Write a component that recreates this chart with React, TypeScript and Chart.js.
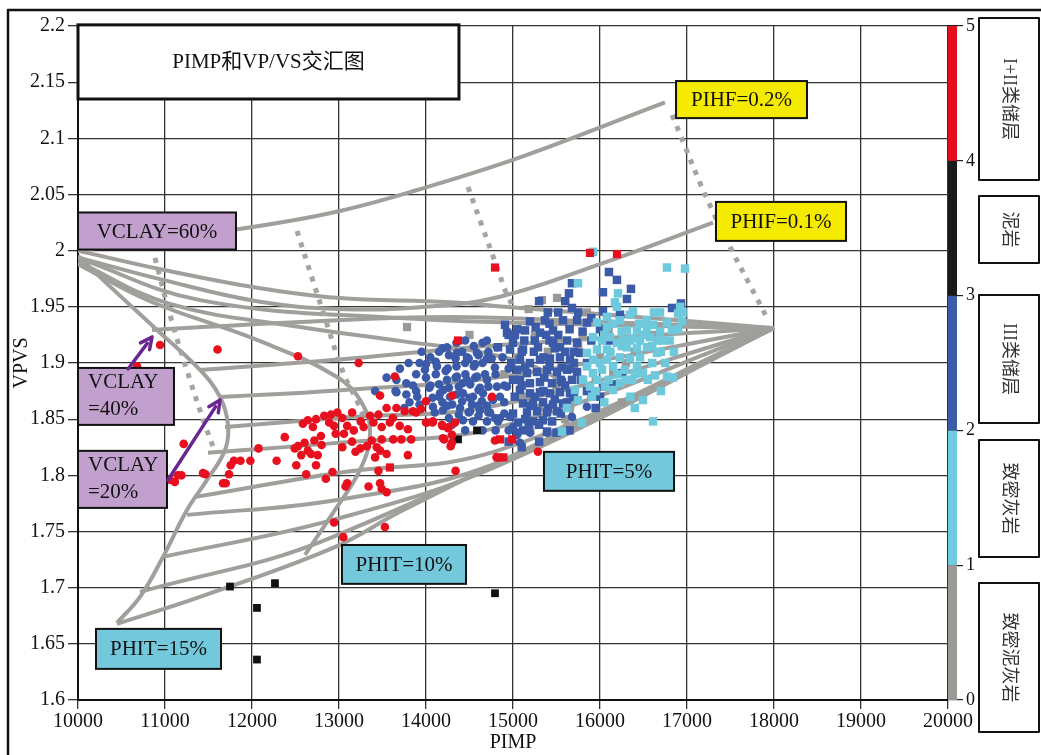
import React, { useEffect, useRef } from 'react';
import { Chart, registerables } from 'chart.js';

Chart.register(...registerables);

type P = [number, number];

// ---------- axis / class data ----------
const xRange: P = [10000, 20000];
const yRange: P = [1.6, 2.2];
const xStep = 1000;
const yStep = 0.05;
const classTicks = [0, 1, 2, 3, 4, 5];
const classNames = ['致密泥灰岩', '致密灰岩', 'III类储层', '泥岩', 'I+II类储层'];
const classColors = ['#9b9995', '#70cbe0', '#3b5aa8', '#1a1a1a', '#e50f1c'];

// ---------- rock-physics template curves ----------
const curvePIHF02: P[] = [[10000, 2.0], [11828, 2.019], [12931, 2.034], [13897, 2.054], [15080, 2.083], [16747, 2.132]];
const curvePHIF01: P[] = [[10000, 1.994], [10977, 1.974], [12057, 1.955], [13000, 1.948], [14000, 1.95], [14851, 1.959], [16000, 1.988], [17299, 2.025]];
const curvePHIT0: P[] = [[10000, 2.0], [10977, 1.983], [12057, 1.967], [12977, 1.958], [14276, 1.954], [15080, 1.949], [16575, 1.94], [18000, 1.931]];
const curveE: P[] = [[10000, 1.9935], [11402, 1.956], [13701, 1.94], [16000, 1.934], [18000, 1.931]];
const curvePHIT5: P[] = [[10000, 1.99], [11057, 1.9526], [12552, 1.9321], [13701, 1.9197], [14736, 1.908], [15425, 1.89], [15678, 1.8671], [15598, 1.8449], [15310, 1.825]];
const curvePHIT10: P[] = [[10000, 1.988], [10828, 1.955], [12057, 1.9205], [12977, 1.8876], [13276, 1.8627], [13356, 1.836], [13241, 1.8048], [12954, 1.7692], [12609, 1.7292]];
const curvePHIT15: P[] = [[10000, 1.9955], [10287, 1.974], [10908, 1.9294], [11402, 1.8938], [11632, 1.8698], [11724, 1.8449], [11690, 1.8226], [11483, 1.7959], [11253, 1.7692], [10977, 1.7274], [10713, 1.6918], [10448, 1.6687]];
const fanV40: P[] = [[10851, 1.9294], [12552, 1.9366], [14276, 1.941], [16000, 1.9366], [18000, 1.9312]];
const fanV30: P[] = [[11402, 1.8938], [12931, 1.9027], [14851, 1.9161], [18000, 1.9312]];
const fan1: P[] = [[11632, 1.8698], [12977, 1.8756], [14851, 1.8876], [18000, 1.9312]];
const fan2: P[] = [[11690, 1.8431], [12977, 1.8511], [14851, 1.8627], [18000, 1.9312]];
const fan3: P[] = [[11494, 1.82], [12977, 1.8289], [14851, 1.8431], [18000, 1.9312]];
const fan4: P[] = [[11345, 1.7808], [12977, 1.8021], [14851, 1.8226], [18000, 1.9312]];
const fan5: P[] = [[11253, 1.7648], [12977, 1.7781], [14851, 1.812], [18000, 1.9312]];
const fan6: P[] = [[10977, 1.7274], [12931, 1.7603], [14851, 1.8093], [18000, 1.9312]];
const fan7: P[] = [[10713, 1.6962], [12931, 1.7452], [18000, 1.9312]];
const lowerEdge: P[] = [[10448, 1.6678], [11402, 1.6918], [12931, 1.7354], [13701, 1.7675], [14851, 1.812], [16575, 1.876], [18000, 1.9312]];
const dotted1: P[] = [[10885, 1.9935], [11080, 1.9366], [11287, 1.8849], [11460, 1.8449], [11575, 1.8209]];
const dotted2: P[] = [[12517, 2.0175], [12701, 1.973], [12828, 1.9428], [13046, 1.892], [13218, 1.8645], [13299, 1.8493]];
const dotted3: P[] = [[14483, 2.0567], [14644, 2.022], [14839, 1.9802], [14908, 1.965], [14989, 1.9517]];
const dotted4: P[] = [[16828, 2.1208], [17299, 2.0345], [17931, 1.9383]];

const solidCurves = [curvePIHF02, curvePHIF01, curvePHIT0, curveE, curvePHIT5, curvePHIT10, curvePHIT15, fanV40, fanV30, fan1, fan2, fan3, fan4, fan5, fan6, fan7, lowerEdge];
const dottedCurves = [dotted1, dotted2, dotted3, dotted4];

// ---------- well data points ----------
const redCircles: P[] = [
  [10943, 1.916], [10678, 1.897], [11604, 1.912], [12528, 1.906], [13226, 1.9], [13642, 1.888], [13472, 1.871], [11215, 1.828],
  [11464, 1.801], [11189, 1.8], [11113, 1.794], [11057, 1.796], [11149, 1.8], [11437, 1.802], [11698, 1.793], [11736, 1.801],
  [11792, 1.813], [11868, 1.813], [11981, 1.813], [11755, 1.809], [12075, 1.824], [12283, 1.813], [12377, 1.834], [12509, 1.809],
  [12623, 1.801], [12736, 1.809], [12849, 1.797], [12925, 1.803], [12491, 1.824], [12528, 1.826], [12604, 1.829], [12642, 1.822],
  [12717, 1.831], [12792, 1.835], [12566, 1.818], [12679, 1.819], [12755, 1.818], [12585, 1.846], [12642, 1.849], [12736, 1.85],
  [12830, 1.853], [12906, 1.854], [12981, 1.856], [13038, 1.851], [13094, 1.844], [12943, 1.844], [12887, 1.847], [13057, 1.837],
  [12962, 1.837], [13038, 1.825], [13170, 1.84], [13151, 1.856], [13358, 1.853], [13453, 1.854], [13547, 1.86], [13660, 1.86],
  [13755, 1.857], [13849, 1.857], [13943, 1.859], [13283, 1.843], [13396, 1.847], [13491, 1.843], [13585, 1.847], [13698, 1.844],
  [13792, 1.841], [13623, 1.832], [13717, 1.832], [13830, 1.832], [13491, 1.832], [13377, 1.831], [13321, 1.826], [13245, 1.824],
  [13189, 1.821], [13434, 1.825], [13472, 1.822], [13415, 1.816], [13547, 1.819], [13792, 1.818], [13453, 1.804], [13472, 1.793],
  [13491, 1.788], [13547, 1.785], [13340, 1.79], [13094, 1.793], [13075, 1.79], [12943, 1.758], [13528, 1.754], [13049, 1.745],
  [14000, 1.847], [14075, 1.847], [14189, 1.844], [14264, 1.843], [14208, 1.832], [14283, 1.826], [14340, 1.804], [14811, 1.816],
  [14792, 1.831], [14302, 1.871], [14000, 1.866], [13887, 1.856], [14011, 1.847], [14080, 1.848], [14184, 1.845], [14253, 1.842],
  [14333, 1.847], [14299, 1.836], [14195, 1.833], [14299, 1.829], [14759, 1.87], [15287, 1.821], [11667, 1.793], [12800, 1.827],
  [12700, 1.843], [13150, 1.83], [13250, 1.848], [13620, 1.851],
];
const redSquares: P[] = [[14368, 1.92], [14793, 1.985], [16195, 1.997], [15885, 1.998], [14851, 1.832], [14990, 1.832], [14830, 1.816], [14890, 1.816], [13585, 1.807]];
const blackSquares: P[] = [[11747, 1.701], [12057, 1.682], [12264, 1.704], [12057, 1.636], [14793, 1.695], [14368, 1.832], [14586, 1.84]];
const greySquares: P[] = [
  [13782, 1.932], [15333, 1.956], [15506, 1.958], [15180, 1.948], [15800, 1.925], [16000, 1.905], [15700, 1.895], [15900, 1.87],
  [16300, 1.9], [15500, 1.88], [15300, 1.86], [15600, 1.85], [15100, 1.87], [14900, 1.89], [15400, 1.91], [16100, 1.93],
  [15750, 1.915], [15950, 1.885], [16400, 1.91], [16600, 1.925], [15200, 1.84], [14700, 1.86], [15650, 1.935], [16250, 1.865],
  [15850, 1.945], [14500, 1.925], [15050, 1.905], [15450, 1.835], [16150, 1.89], [15250, 1.925],
];
const blueCircles: P[] = [
  [13925, 1.9], [14000, 1.899], [14113, 1.901], [14189, 1.913], [14264, 1.907], [14340, 1.904], [14415, 1.91], [14491, 1.904],
  [14604, 1.907], [14717, 1.91], [14755, 1.904], [13547, 1.887], [13660, 1.885], [13774, 1.882], [13887, 1.89], [14000, 1.887],
  [14113, 1.89], [14226, 1.893], [14340, 1.887], [14453, 1.89], [14566, 1.887], [14679, 1.89], [13415, 1.875], [13660, 1.874],
  [13774, 1.872], [13887, 1.875], [14038, 1.878], [14151, 1.881], [14264, 1.878], [14377, 1.879], [14509, 1.881], [14604, 1.876],
  [14717, 1.879], [13811, 1.865], [13925, 1.863], [14075, 1.869], [14189, 1.865], [14302, 1.863], [14415, 1.866], [14528, 1.863],
  [14642, 1.866], [14755, 1.869], [14377, 1.854], [14491, 1.856], [14604, 1.853], [14717, 1.856], [14264, 1.851], [14792, 1.851],
  [14566, 1.899], [14792, 1.896], [13988, 1.894], [14126, 1.897], [14241, 1.914], [14356, 1.909], [14471, 1.905], [14586, 1.909],
  [14701, 1.904], [14816, 1.914], [14241, 1.885], [14356, 1.888], [14471, 1.885], [14586, 1.888], [14701, 1.885], [14816, 1.879],
  [14931, 1.879], [14161, 1.873], [14276, 1.87], [14425, 1.873], [14540, 1.87], [14655, 1.873], [14770, 1.867], [14080, 1.861],
  [14195, 1.858], [14391, 1.86], [14506, 1.857], [14621, 1.858], [14736, 1.856], [14851, 1.851], [14966, 1.852], [14425, 1.849],
  [14540, 1.848], [14701, 1.848], [14828, 1.848], [15000, 1.843], [15195, 1.838], [15391, 1.838], [15080, 1.829], [15046, 1.836],
  [15678, 1.852], [15850, 1.861], [14900, 1.865], [14950, 1.895], [14880, 1.905], [14650, 1.918], [14450, 1.92], [14950, 1.84],
  [13700, 1.895], [13800, 1.9], [13650, 1.875], [13750, 1.86], [13900, 1.87], [14050, 1.88], [14150, 1.87], [14250, 1.895],
  [14350, 1.897], [14450, 1.9], [14550, 1.897], [14650, 1.9], [14800, 1.89], [14900, 1.88], [14850, 1.87], [14700, 1.862],
  [14600, 1.862], [14500, 1.869], [14350, 1.872], [14200, 1.876], [14100, 1.856], [14300, 1.845], [14450, 1.84], [14650, 1.84],
  [14800, 1.84], [14900, 1.855], [14550, 1.915], [14350, 1.918], [14150, 1.91], [14050, 1.905], [13850, 1.88], [14620, 1.878],
  [14420, 1.882], [14250, 1.862], [13950, 1.91], [14700, 1.92],
];
const blueSquares: P[] = [
  [16103, 1.981], [16195, 1.974], [16356, 1.966], [16310, 1.957], [16034, 1.963], [15678, 1.971], [15643, 1.962], [16828, 1.949],
  [16931, 1.953], [16034, 1.946], [15678, 1.949], [15367, 1.938], [15195, 1.937], [14908, 1.934], [15138, 1.929], [15023, 1.925],
  [15310, 1.927], [15460, 1.929], [15575, 1.938], [15736, 1.938], [15850, 1.936], [15460, 1.918], [15621, 1.92], [15736, 1.918],
  [15770, 1.909], [15287, 1.914], [15115, 1.912], [14966, 1.912], [14828, 1.914], [15080, 1.903], [15195, 1.9], [15310, 1.903],
  [15425, 1.904], [15540, 1.905], [15655, 1.903], [15046, 1.894], [15161, 1.891], [15276, 1.892], [15391, 1.894], [15506, 1.892],
  [15621, 1.894], [15736, 1.892], [15080, 1.885], [15195, 1.882], [15310, 1.883], [15448, 1.882], [15563, 1.883], [15678, 1.885],
  [15080, 1.876], [15195, 1.873], [15310, 1.874], [15425, 1.873], [15540, 1.874], [15655, 1.873], [15115, 1.864], [15230, 1.864],
  [15345, 1.865], [15460, 1.863], [15575, 1.864], [15161, 1.856], [15276, 1.857], [15391, 1.856], [15506, 1.857], [15230, 1.848],
  [15345, 1.849], [15058, 1.847], [15046, 1.838], [15115, 1.84], [15391, 1.839], [16034, 1.879], [16138, 1.881], [16253, 1.891],
  [15540, 1.914], [14931, 1.927], [16230, 1.943], [15250, 1.92], [15380, 1.925], [15520, 1.925], [15140, 1.896], [15360, 1.887],
  [15480, 1.868], [15250, 1.87], [15140, 1.85], [15600, 1.88], [15700, 1.91], [15000, 1.918], [15420, 1.897],
  [14950, 1.925], [15050, 1.93], [15260, 1.932], [15420, 1.935], [15650, 1.93], [15800, 1.928], [15900, 1.92], [15850, 1.9],
  [15780, 1.885], [15700, 1.87], [15620, 1.865], [15550, 1.855], [15450, 1.848], [15300, 1.845], [15180, 1.845], [15000, 1.855],
  [15020, 1.87], [15000, 1.885], [14980, 1.9], [15100, 1.91], [15350, 1.905], [15480, 1.913], [15600, 1.91], [15700, 1.9],
  [15560, 1.896], [15240, 1.91], [15130, 1.92], [15400, 1.945], [15520, 1.945], [15300, 1.955], [15600, 1.955], [15750, 1.945],
  [15900, 1.94], [16000, 1.93], [16100, 1.92], [16000, 1.87], [15950, 1.86], [15850, 1.875], [15400, 1.86], [15350, 1.875],
  [15200, 1.862], [15100, 1.88], [15650, 1.84], [15500, 1.838], [15300, 1.83], [15100, 1.825], [14950, 1.83], [15550, 1.885],
  [15650, 1.895], [15420, 1.92],
];
const cyanSquares: P[] = [
  [15920, 1.999], [16770, 1.985], [16977, 1.984], [15747, 1.971], [16207, 1.962], [16172, 1.954], [16690, 1.945], [16897, 1.944],
  [16943, 1.937], [16379, 1.946], [15966, 1.936], [16080, 1.932], [16230, 1.938], [16310, 1.929], [16425, 1.929], [16540, 1.931],
  [16609, 1.934], [16690, 1.928], [16770, 1.936], [16828, 1.929], [15920, 1.923], [16023, 1.92], [16115, 1.923], [16195, 1.918],
  [16264, 1.92], [16379, 1.922], [16460, 1.92], [16575, 1.923], [16655, 1.92], [16310, 1.914], [16425, 1.913], [16540, 1.914],
  [16080, 1.912], [15966, 1.912], [15850, 1.909], [15920, 1.903], [16080, 1.903], [16230, 1.905], [16345, 1.904], [16460, 1.905],
  [16023, 1.894], [16150, 1.897], [16287, 1.894], [16425, 1.897], [16483, 1.891], [15920, 1.891], [15850, 1.897], [15805, 1.885],
  [15885, 1.879], [15966, 1.885], [16057, 1.879], [16150, 1.876], [16230, 1.882], [16368, 1.885], [16494, 1.891], [16632, 1.889],
  [16770, 1.888], [16839, 1.887], [15747, 1.867], [15908, 1.87], [15621, 1.86], [15793, 1.847], [15563, 1.839], [16494, 1.867],
  [16609, 1.848], [15713, 1.876], [16655, 1.909], [16713, 1.92], [16540, 1.938], [16345, 1.943], [16080, 1.941], [16920, 1.95],
  [16195, 1.95],
  [16050, 1.925], [16150, 1.935], [16250, 1.928], [16350, 1.92], [16500, 1.925], [16600, 1.915], [16700, 1.91], [16800, 1.92],
  [16850, 1.91], [16750, 1.9], [16600, 1.9], [16550, 1.885], [16400, 1.89], [16300, 1.885], [16200, 1.89], [16100, 1.885],
  [16000, 1.9], [16120, 1.91], [16250, 1.915], [16450, 1.935], [16620, 1.945], [16900, 1.93], [16950, 1.945], [15950, 1.875],
  [16050, 1.865], [16350, 1.87], [16700, 1.875], [16400, 1.86],
];

// ---------- layout (pixels / styles, not data) ----------
const W = 1041;
const H = 755;
const annotations = [
  { lines: ['PIMP和VP/VS交汇图'], x0: 10000, x1: 14379, y0: 2.201, y1: 2.135, fill: '#ffffff', lw: 3, align: 'center' },
  { lines: ['VCLAY=60%'], x0: 10000, x1: 11816, y0: 2.034, y1: 2.001, fill: '#c2a0cd', lw: 2, align: 'center' },
  { lines: ['VCLAY', '=40%'], x0: 10000, x1: 11103, y0: 1.8956, y1: 1.8449, fill: '#c2a0cd', lw: 2, align: 'left' },
  { lines: ['VCLAY', '=20%'], x0: 10000, x1: 11023, y0: 1.8218, y1: 1.771, fill: '#c2a0cd', lw: 2, align: 'left' },
  { lines: ['PHIT=15%'], x0: 10207, x1: 11644, y0: 1.6633, y1: 1.6277, fill: '#74c8dc', lw: 2, align: 'center' },
  { lines: ['PHIT=10%'], x0: 13034, x1: 14460, y0: 1.738, y1: 1.7034, fill: '#74c8dc', lw: 2, align: 'center' },
  { lines: ['PHIT=5%'], x0: 15356, x1: 16851, y0: 1.8209, y1: 1.7862, fill: '#74c8dc', lw: 2, align: 'center' },
  { lines: ['PIHF=0.2%'], x0: 16874, x1: 18379, y0: 2.151, y1: 2.118, fill: '#f5eb00', lw: 2, align: 'center' },
  { lines: ['PHIF=0.1%'], x0: 17333, x1: 18828, y0: 2.0434, y1: 2.0087, fill: '#f5eb00', lw: 2, align: 'center' },
];
const arrows = [
  { from: [10575, 1.8947], to: [10851, 1.9232] },
  { from: [11034, 1.7959], to: [11632, 1.8671] },
];
const legendBoxes = [
  { cls: 4, top: 18, bottom: 180 },
  { cls: 3, top: 196, bottom: 263 },
  { cls: 2, top: 295, bottom: 423 },
  { cls: 1, top: 440, bottom: 557 },
  { cls: 0, top: 583, bottom: 732 },
];
const SERIF = '"Liberation Serif", "Noto Sans CJK SC", serif';
const toXY = (arr: P[]) => arr.map(([x, y]) => ({ x, y }));

const overlayPlugin = {
  id: 'overlay',
  afterDraw(chart: any) {
    const ctx = chart.ctx as CanvasRenderingContext2D;
    const xs = chart.scales.x;
    const ys = chart.scales.y;
    const cs = chart.scales.y2;
    const area = chart.chartArea;
    ctx.save();

    annotations.forEach((a) => {
      const l = xs.getPixelForValue(a.x0);
      const r = xs.getPixelForValue(a.x1);
      const t = ys.getPixelForValue(a.y0);
      const b = ys.getPixelForValue(a.y1);
      ctx.fillStyle = a.fill;
      ctx.fillRect(l, t, r - l, b - t);
      ctx.lineWidth = a.lw;
      ctx.strokeStyle = '#111';
      ctx.strokeRect(l, t, r - l, b - t);
      ctx.fillStyle = '#111';
      ctx.font = `21px ${SERIF}`;
      ctx.textBaseline = 'middle';
      const lh = 27;
      const cy = (t + b) / 2 - ((a.lines.length - 1) * lh) / 2;
      a.lines.forEach((s, i) => {
        if (a.align === 'left') {
          ctx.textAlign = 'left';
          ctx.fillText(s, l + 10, cy + i * lh);
        } else {
          ctx.textAlign = 'center';
          ctx.fillText(s, (l + r) / 2, cy + i * lh + 1);
        }
      });
    });

    arrows.forEach((ar) => {
      const x0 = xs.getPixelForValue(ar.from[0]);
      const y0 = ys.getPixelForValue(ar.from[1]);
      const x1 = xs.getPixelForValue(ar.to[0]);
      const y1 = ys.getPixelForValue(ar.to[1]);
      const ang = Math.atan2(y1 - y0, x1 - x0);
      ctx.strokeStyle = '#6b2791';
      ctx.fillStyle = '#6b2791';
      ctx.lineWidth = 3.5;
      ctx.lineCap = 'round';
      ctx.beginPath();
      ctx.moveTo(x0, y0);
      ctx.lineTo(x1 - 8 * Math.cos(ang), y1 - 8 * Math.sin(ang));
      ctx.stroke();
      ctx.lineJoin = 'round';
      ctx.beginPath();
      ctx.moveTo(x1, y1);
      ctx.lineTo(x1 - 13 * Math.cos(ang - 0.45), y1 - 13 * Math.sin(ang - 0.45));
      ctx.moveTo(x1, y1);
      ctx.lineTo(x1 - 13 * Math.cos(ang + 0.45), y1 - 13 * Math.sin(ang + 0.45));
      ctx.stroke();
    });

    for (let i = 0; i < classNames.length; i++) {
      const top = cs.getPixelForValue(i + 1);
      const bot = cs.getPixelForValue(i);
      ctx.fillStyle = classColors[i];
      ctx.fillRect(area.right, top, 9, bot - top);
    }

    legendBoxes.forEach((lb) => {
      const l = 979;
      const r = 1039;
      ctx.fillStyle = '#ffffff';
      ctx.fillRect(l, lb.top, r - l, lb.bottom - lb.top);
      ctx.strokeStyle = '#111';
      ctx.lineWidth = 2;
      ctx.strokeRect(l, lb.top, r - l, lb.bottom - lb.top);
      ctx.save();
      ctx.translate((l + r) / 2, (lb.top + lb.bottom) / 2);
      ctx.rotate(Math.PI / 2);
      ctx.fillStyle = '#333';
      ctx.font = `18px ${SERIF}`;
      ctx.textAlign = 'center';
      ctx.textBaseline = 'middle';
      ctx.fillText(classNames[lb.cls], 0, 0);
      ctx.restore();
    });

    ctx.strokeStyle = '#111';
    ctx.lineWidth = 2.5;
    ctx.beginPath();
    ctx.moveTo(8, H);
    ctx.lineTo(8, 10);
    ctx.lineTo(W, 10);
    ctx.stroke();
    ctx.restore();
  },
};

export default function App() {
  const ref = useRef<HTMLCanvasElement | null>(null);
  useEffect(() => {
    if (!ref.current) return;
    const lineColor = '#a09f9b';
    const datasets: any[] = [];
    solidCurves.forEach((c) =>
      datasets.push({ data: toXY(c), showLine: true, pointRadius: 0, borderColor: lineColor, borderWidth: 4, tension: 0.4, fill: false, order: 10 })
    );
    dottedCurves.forEach((c) =>
      datasets.push({ data: toXY(c), showLine: true, pointRadius: 0, borderColor: '#a4a4a1', borderWidth: 5, borderDash: [5, 7], borderCapStyle: 'butt', tension: 0.4, fill: false, order: 9 })
    );
    const pts = (arr: P[], color: string, style: string, r: number, order: number) => ({
      data: toXY(arr), showLine: false, pointStyle: style, pointRadius: r, pointBorderWidth: 0, borderWidth: 0,
      backgroundColor: color, pointBackgroundColor: color, order,
    });
    datasets.push(pts(greySquares, '#9a9996', 'rect', 5.8, 6));
    datasets.push(pts(blueCircles, '#3b5aa8', 'circle', 4.3, 5));
    datasets.push(pts(blueSquares, '#3b5aa8', 'rect', 6, 4));
    datasets.push(pts(cyanSquares, '#6fc9dd', 'rect', 6, 3));
    datasets.push(pts(blackSquares, '#111111', 'rect', 5.5, 2));
    datasets.push(pts(redCircles, '#e8101e', 'circle', 4.3, 1));
    datasets.push(pts(redSquares, '#e8101e', 'rect', 5.8, 1));

    const chart = new Chart(ref.current, {
      type: 'scatter',
      data: { datasets },
      options: {
        responsive: false,
        animation: false,
        events: [],
        layout: { padding: { top: 26, left: 0, right: 0, bottom: 0 } },
        plugins: { legend: { display: false }, tooltip: { enabled: false } },
        scales: {
          x: {
            type: 'linear', min: xRange[0], max: xRange[1],
            ticks: { stepSize: xStep, color: '#111', font: { family: SERIF, size: 20 }, padding: 1, maxRotation: 0, callback: (v: any) => String(v) },
            grid: { color: '#333', lineWidth: 1.3, tickLength: 9 },
            border: { color: '#111', width: 2 },
            title: { display: true, text: 'PIMP', color: '#111', font: { family: SERIF, size: 20 }, padding: { top: 0, bottom: 0 } },
            afterFit: (s: any) => { s.height = 55; },
          },
          y: {
            type: 'linear', min: yRange[0], max: yRange[1],
            ticks: { stepSize: yStep, color: '#111', font: { family: SERIF, size: 20 }, padding: 3, callback: (v: any) => String(Number(Number(v).toFixed(2))) },
            grid: { color: '#333', lineWidth: 1.3, tickLength: 10 },
            border: { color: '#111', width: 2 },
            title: { display: true, text: 'VPVS', color: '#111', font: { family: SERIF, size: 20 }, padding: { top: 10, bottom: 0 } },
            afterFit: (s: any) => { s.width = 78; },
          },
          y2: {
            type: 'linear', position: 'right', min: classTicks[0], max: classTicks[classTicks.length - 1],
            ticks: { stepSize: 1, color: '#111', font: { family: SERIF, size: 18 }, padding: 3 },
            grid: { drawOnChartArea: false, color: '#222', lineWidth: 1.2, tickLength: 15 },
            border: { display: false },
            afterFit: (s: any) => { s.width = 93; },
          },
        },
      },
      plugins: [overlayPlugin],
    } as any);
    return () => chart.destroy();
  }, []);
  return (
    <div style={{ position: 'fixed', left: 0, top: 0, width: W, height: H, background: '#fff' }}>
      <canvas ref={ref} width={W} height={H} style={{ display: 'block' }} />
    </div>
  );
}
